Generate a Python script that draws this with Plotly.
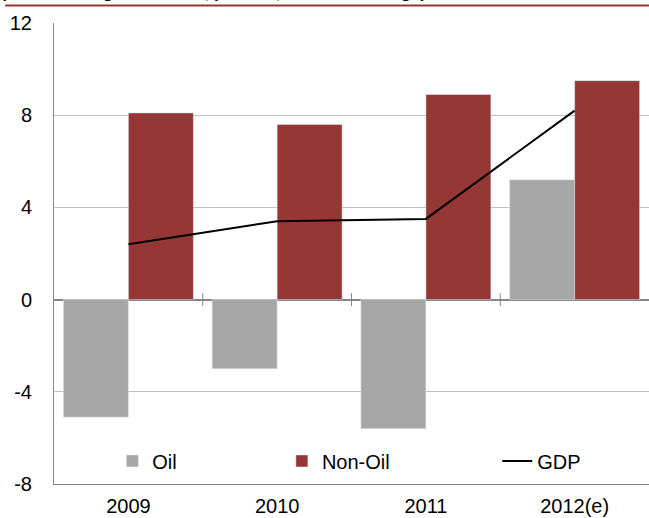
import plotly.graph_objects as go

categories = ["2009", "2010", "2011", "2012(e)"]
oil = [-5.1, -3.0, -5.6, 5.2]
non_oil = [8.1, 7.6, 8.9, 9.5]
gdp = [2.4, 3.4, 3.5, 8.2]
y_ticks = [-8, -4, 0, 4, 8, 12]
y_tick_labels = ["-8", "-4", "0", "4", "8", "12"]
title_text = "(Real sector growth rates, percent, and GDP change)"

FONT = "Liberation Sans, Arial, sans-serif"
RED = "#953735"
GRAY = "#a6a6a6"

fig = go.Figure()
fig.add_trace(go.Bar(name="Oil", x=categories, y=oil, marker_color=GRAY,
                     legend="legend", showlegend=True))
fig.add_trace(go.Bar(name="Non-Oil", x=categories, y=non_oil, marker_color=RED,
                     legend="legend2", showlegend=True))
fig.add_trace(go.Scatter(name="GDP", x=categories, y=gdp, mode="lines",
                         line=dict(color="black", width=2), legend="legend3", showlegend=True))

# boundary tick marks crossing the zero line
for b in [0.5, 1.5, 2.5]:
    fig.add_shape(type="line", xref="x", yref="y", x0=b, x1=b, y0=-0.28, y1=0.28,
                  line=dict(color="#868686", width=1))

# header rule and clipped header text
fig.add_shape(type="line", xref="paper", yref="paper", x0=-0.082, x1=1.0, y0=1.038, y1=1.038,
              line=dict(color="#943634", width=2))
fig.add_annotation(text=f"<b><i>{title_text}</i></b>", xref="paper", yref="paper",
                   x=-0.091, y=1.042, xanchor="left", yanchor="bottom", showarrow=False,
                   font=dict(family=FONT, size=17, color="black"))

leg_common = dict(orientation="h", yanchor="middle", y=0.05, xanchor="left",
                  font=dict(family=FONT, size=20, color="black"), bgcolor="rgba(0,0,0,0)",
                  itemwidth=30)
fig.update_layout(
    width=649, height=518,
    margin=dict(l=54, r=0, t=23, b=34),
    plot_bgcolor="white", paper_bgcolor="white",
    showlegend=True,
    barmode="group", bargap=0.126, bargroupgap=0,
    font=dict(family=FONT, size=20, color="black"),
    legend=dict(x=0.098, **leg_common),
    legend2=dict(x=0.383, **leg_common),
    legend3=dict(x=0.745, **leg_common),
    xaxis=dict(range=[-0.5, 3.5], showline=True, linecolor="#868686", linewidth=1,
               showgrid=False, ticks="outside", ticklen=4, tickcolor="rgba(0,0,0,0)",
               automargin=False,
               tickfont=dict(family=FONT, size=20, color="black")),
    yaxis=dict(range=[-8, 12], tickvals=y_ticks, ticktext=y_tick_labels,
               showline=True, linecolor="#868686", linewidth=1,
               showgrid=True, gridcolor="#bfbfbf", gridwidth=1,
               zeroline=True, zerolinecolor="#868686", zerolinewidth=1.5,
               ticks="outside", ticklen=17, tickcolor="rgba(0,0,0,0)",
               automargin=False,
               tickfont=dict(family=FONT, size=20, color="black")),
)
fig.write_html("out.html", config={"displayModeBar": False},
               post_script="document.body.style.margin='0';")
